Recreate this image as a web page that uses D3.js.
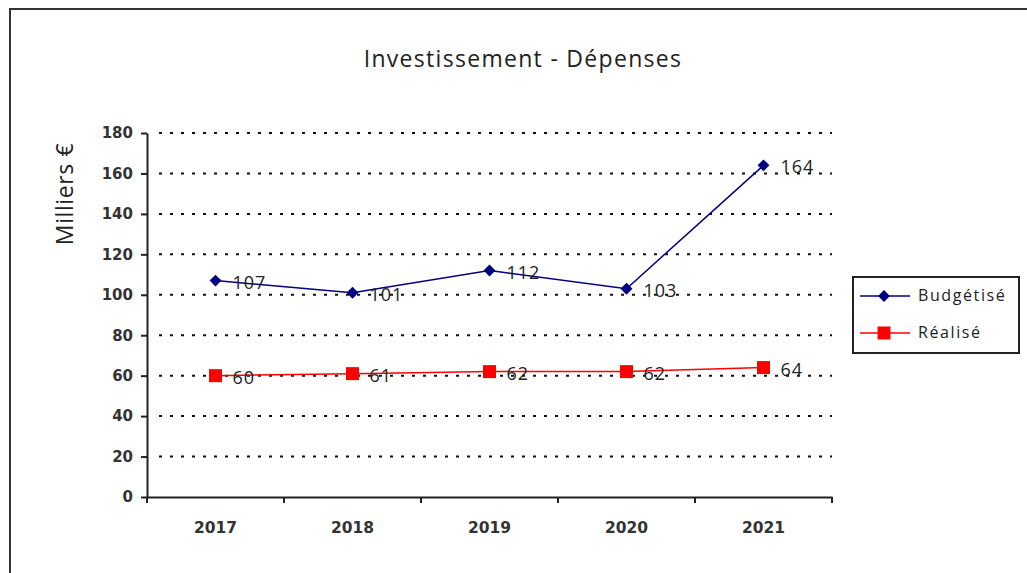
<!DOCTYPE html>
<meta charset="utf-8">
<script src="https://d3js.org/d3.v7.min.js"></script>
<style>
  body { margin: 0; background: #fff; }
</style>
<div id="chart"></div>
<script>

    // data
    var years = ["2017", "2018", "2019", "2020", "2021"];
    var budgetise = [107, 101, 112, 103, 164];
    var realise = [60, 61, 62, 62, 64];
    var yTicks = [0, 20, 40, 60, 80, 100, 120, 140, 160, 180];

    var W = 1027, H = 573;
    var margin = {top: 133, left: 147, right: 195, bottom: 76};
    var width = W - margin.left - margin.right,
        height = H - margin.top - margin.bottom;

    var svg = d3.select("#chart")
        .append("svg")
        .attr("width", W)
        .attr("height", H);

    // outer frame
    svg.append("rect")
        .attr("x", 10).attr("y", 9)
        .attr("width", W + 20).attr("height", H + 20)
        .attr("fill", "none")
        .attr("stroke", "#333")
        .attr("stroke-width", 2);

    // title
    svg.append("text")
        .attr("x", 523)
        .attr("y", 67)
        .attr("text-anchor", "middle")
        .style("font", "23px 'Open Sans', sans-serif")
        .style("letter-spacing", "1.3px")
        .style("fill", "#222")
        .text("Investissement - Dépenses");

    // y label
    svg.append("text")
        .attr("transform", "translate(73,194) rotate(-90)")
        .attr("text-anchor", "middle")
        .style("font", "23px 'Open Sans', sans-serif")
        .style("letter-spacing", "0.6px")
        .style("fill", "#222")
        .text("Milliers €");

    var g = svg.append("g")
        .attr("transform", "translate(" + margin.left + "," + margin.top + ")");

    var x = d3.scaleBand()
        .domain(years)
        .range([0, width]);

    var y = d3.scaleLinear()
        .domain([0, 180])
        .range([height, 0]);

    // dotted gridlines
    g.append("g")
        .selectAll("line")
        .data(yTicks.slice(1))
        .enter()
        .append("line")
            .attr("x1", 12).attr("x2", width)
            .attr("y1", function(d) { return y(d); })
            .attr("y2", function(d) { return y(d); })
            .attr("stroke", "#111")
            .attr("stroke-width", 2)
            .attr("stroke-dasharray", "3,8");

    // y axis
    var yAxis = g.append("g")
        .call(d3.axisLeft(y).tickValues(yTicks).tickSize(6).tickPadding(8).tickSizeOuter(0));
    yAxis.select(".domain").attr("stroke", "#222").attr("stroke-width", 2);
    yAxis.selectAll(".tick line").attr("stroke", "#222").attr("stroke-width", 2);
    yAxis.selectAll("text")
        .style("font", "bold 15px 'DejaVu Sans', sans-serif")
        .style("fill", "#333");

    // x axis
    var xAxis = g.append("g")
        .attr("transform", "translate(0," + height + ")")
        .call(d3.axisBottom(x).tickSize(0).tickPadding(25).tickSizeOuter(0));
    xAxis.select(".domain").attr("stroke", "#222").attr("stroke-width", 2);
    xAxis.selectAll("text")
        .style("font", "bold 15.5px 'DejaVu Sans', sans-serif")
        .style("fill", "#333");

    // ticks between categories
    xAxis.selectAll(".sep")
        .data(years)
        .enter()
        .append("line")
            .attr("class", "sep")
            .attr("x1", function(d) { return x(d) + x.bandwidth(); })
            .attr("x2", function(d) { return x(d) + x.bandwidth(); })
            .attr("y1", 0).attr("y2", 6)
            .attr("stroke", "#222")
            .attr("stroke-width", 2);
    xAxis.append("line")
        .attr("x1", 0).attr("x2", 0).attr("y1", 0).attr("y2", 6)
        .attr("stroke", "#222").attr("stroke-width", 2);

    var cx = function(d, i) { return x(years[i]) + x.bandwidth() / 2; };

    // Budgetise line
    g.append("path")
        .datum(budgetise)
        .attr("d", d3.line().x(cx).y(function(d) { return y(d); }))
        .attr("fill", "none")
        .attr("stroke", "#000080")
        .attr("stroke-width", 1.5);

    g.selectAll(".diamond")
        .data(budgetise)
        .enter()
        .append("path")
            .attr("class", "diamond")
            .attr("d", d3.symbol().type(d3.symbolDiamond2).size(90))
            .attr("transform", function(d, i) { return "translate(" + cx(d, i) + "," + y(d) + ")"; })
            .attr("fill", "#000080");

    // Realise line
    g.append("path")
        .datum(realise)
        .attr("d", d3.line().x(cx).y(function(d) { return y(d); }))
        .attr("fill", "none")
        .attr("stroke", "#ff0000")
        .attr("stroke-width", 1.5);

    g.selectAll(".square")
        .data(realise)
        .enter()
        .append("rect")
            .attr("class", "square")
            .attr("x", function(d, i) { return cx(d, i) - 6.5; })
            .attr("y", function(d) { return y(d) - 6.5; })
            .attr("width", 13).attr("height", 13)
            .attr("fill", "#ff0000");

    // data labels
    function labels(data) {
        g.append("g")
            .selectAll("text")
            .data(data)
            .enter()
            .append("text")
                .attr("x", function(d, i) { return cx(d, i) + 17; })
                .attr("y", function(d) { return y(d) + 8; })
                .style("font", "18px 'Open Sans', sans-serif")
                .style("letter-spacing", "1px")
                .style("fill", "#222")
                .text(function(d) { return d; });
    }
    labels(budgetise);
    labels(realise);

    // legend
    var lg = svg.append("g").attr("transform", "translate(853,277)");
    lg.append("rect")
        .attr("width", 166).attr("height", 76)
        .attr("fill", "#fff")
        .attr("stroke", "#222")
        .attr("stroke-width", 2);

    var legendItems = [
        {name: "Budgétisé", color: "#000080", marker: "diamond"},
        {name: "Réalisé", color: "#ff0000", marker: "square"}
    ];
    var li = lg.selectAll(".item")
        .data(legendItems)
        .enter()
        .append("g")
            .attr("transform", function(d, i) { return "translate(0," + (19 + i * 37) + ")"; });
    li.append("line")
        .attr("x1", 7).attr("x2", 57)
        .attr("stroke", function(d) { return d.color; })
        .attr("stroke-width", 1.5);
    li.filter(function(d) { return d.marker == "diamond"; })
        .append("path")
        .attr("d", d3.symbol().type(d3.symbolDiamond2).size(90))
        .attr("transform", "translate(31,0)")
        .attr("fill", "#000080");
    li.filter(function(d) { return d.marker == "square"; })
        .append("rect")
        .attr("x", 24.5).attr("y", -6.5).attr("width", 13).attr("height", 13)
        .attr("fill", "#ff0000");
    li.append("text")
        .attr("x", 65).attr("y", 5)
        .style("font", "16px 'Open Sans', sans-serif")
        .style("letter-spacing", "1.6px")
        .style("fill", "#222")
        .text(function(d) { return d.name; });

</script>
